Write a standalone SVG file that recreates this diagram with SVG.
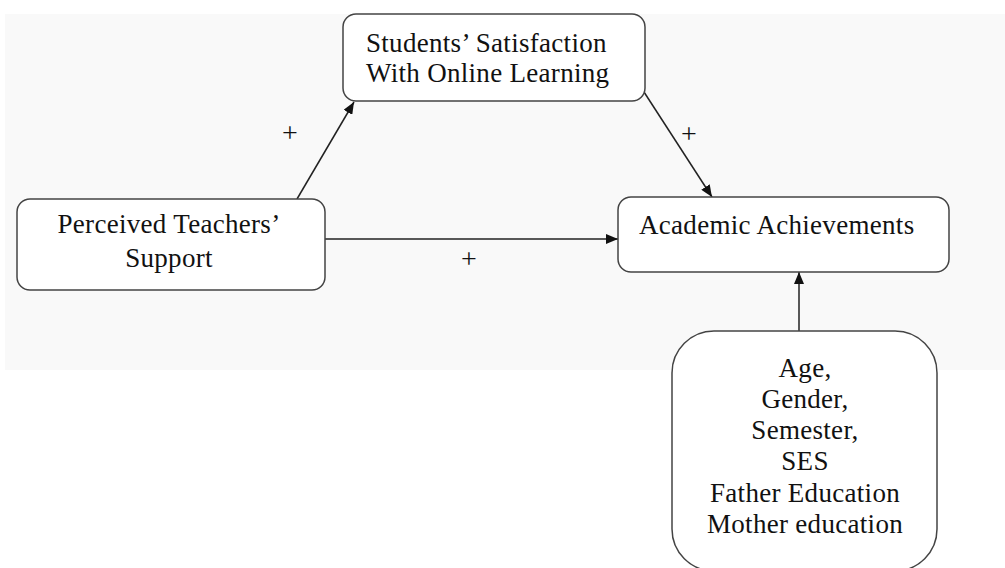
<svg xmlns="http://www.w3.org/2000/svg" width="1005" height="568" viewBox="0 0 1005 568">
<defs>
<marker id="ah" viewBox="0 0 12 10" refX="12" refY="5" markerWidth="12" markerHeight="10" markerUnits="userSpaceOnUse" orient="auto">
<path d="M0,0 L12,5 L0,10 z" fill="#111"/>
</marker>
</defs>
<style>
.box{fill:#fff;stroke:#444;stroke-width:1.5}
.t{font-family:"Liberation Serif","Times New Roman",serif;font-size:27px;letter-spacing:0.3px;fill:#111}
.c{text-anchor:middle}
.lbl{font-family:"Liberation Serif","Times New Roman",serif;font-size:28px;fill:#111;text-anchor:middle}
.ln{stroke:#222;stroke-width:1.5;fill:none;marker-end:url(#ah)}
</style>
<rect width="1005" height="568" fill="#fff"/>
<rect x="5" y="14" width="1000" height="356" fill="#f9f9f9"/>
<g id="connectors">
<line class="ln" x1="297" y1="199" x2="354" y2="102"/>
<line class="ln" x1="644" y1="92" x2="712" y2="197"/>
<line class="ln" x1="325" y1="239" x2="618" y2="239"/>
<line class="ln" x1="799" y1="331" x2="799" y2="272"/>
<text class="lbl" x="290" y="142">+</text>
<text class="lbl" x="689" y="143">+</text>
<text class="lbl" x="469" y="268">+</text>
</g>
<g id="satisfaction">
<rect class="box" x="343" y="14" width="302" height="87" rx="13"/>
<text class="t" x="366" y="52">Students’ Satisfaction</text>
<text class="t" x="366" y="82">With Online Learning</text>
</g>
<g id="support">
<rect class="box" x="17" y="199" width="308" height="91" rx="13"/>
<text class="t c" x="169" y="233">Perceived Teachers’</text>
<text class="t c" x="169" y="267">Support</text>
</g>
<g id="achievements">
<rect class="box" x="618" y="197" width="331" height="75" rx="13"/>
<text class="t" x="639" y="234">Academic Achievements</text>
</g>
<g id="covariates">
<rect class="box" x="672" y="331" width="265" height="240" rx="42"/>
<text class="t c" x="805" y="377">Age,</text>
<text class="t c" x="805" y="408">Gender,</text>
<text class="t c" x="805" y="439">Semester,</text>
<text class="t c" x="805" y="470">SES</text>
<text class="t c" x="805" y="502">Father Education</text>
<text class="t c" x="805" y="533">Mother education</text>
</g>
</svg>
